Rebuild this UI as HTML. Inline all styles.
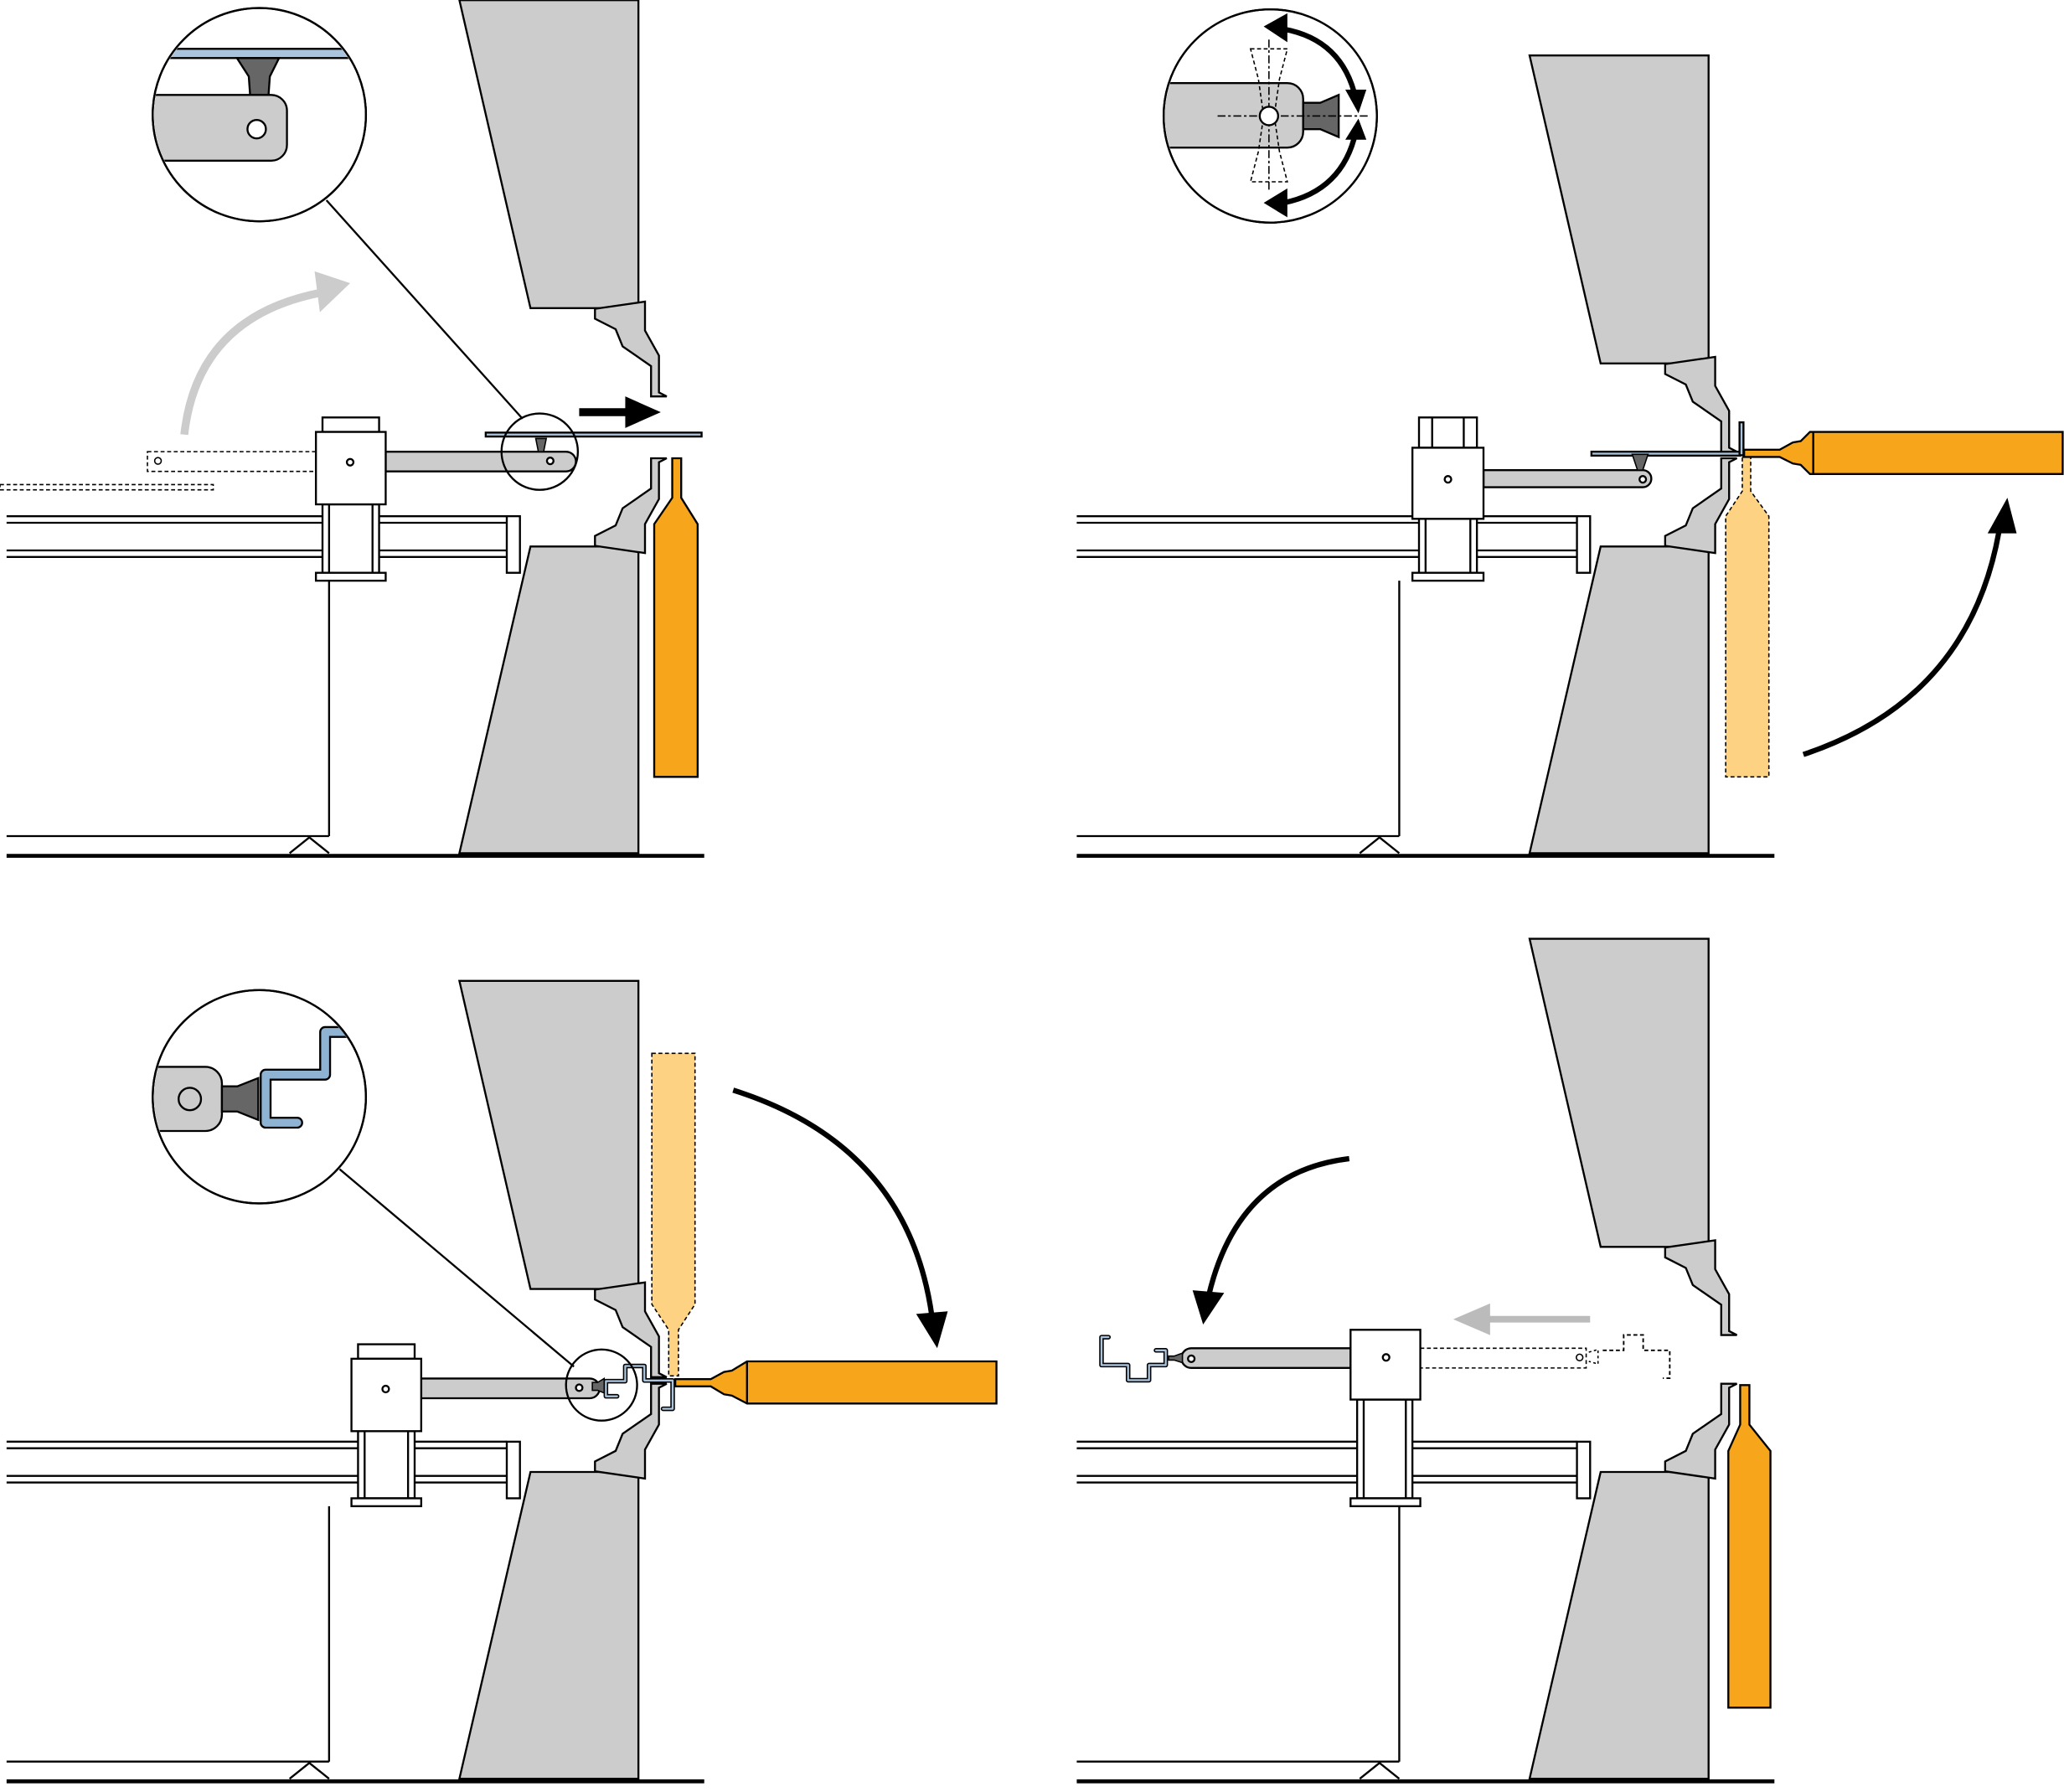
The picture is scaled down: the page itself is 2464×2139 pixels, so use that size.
<!DOCTYPE html>
<html><head><meta charset="utf-8"><style>html,body{margin:0;padding:0;background:#fff}svg{display:block}</style></head>
<body>
<svg width="2464" height="2139" viewBox="0 0 1568 1361" xmlns="http://www.w3.org/2000/svg">
<defs>
<clipPath id="c1"><circle cx="197" cy="87" r="80"/></clipPath>
<clipPath id="c2"><circle cx="965" cy="88" r="80"/></clipPath>
<clipPath id="c3"><circle cx="197" cy="833" r="80"/></clipPath>
<g id="upper" stroke="#000" stroke-width="1.5" fill="#ccc" stroke-linejoin="miter">
  <polygon points="452,234.5 490,229 490,251 500.6,270 500.6,298 506.5,301 494.6,301 494.6,278 473,263 467.7,250 452,242"/>
</g>
<g id="frame" stroke="#000" stroke-width="1.5" fill="none">
  <polygon points="403,415 485,415 485,648 349,648" fill="#ccc"/>
  <g transform="translate(0,649) scale(1,-1)"><use href="#upper"/></g>
  <line x1="5" y1="392" x2="385" y2="392"/><line x1="5" y1="397" x2="385" y2="397"/>
  <line x1="5" y1="418" x2="385" y2="418"/><line x1="5" y1="423" x2="385" y2="423"/>
  <rect x="385" y="392" width="10" height="43" fill="#fff"/>
  <line x1="250" y1="441" x2="250" y2="635"/>
  <line x1="5" y1="635" x2="250" y2="635"/>
  <polyline points="220,648 235,636 250,648"/>
  <line x1="5" y1="650" x2="535" y2="650" stroke-width="3"/>
</g>
<g id="uppbeam" stroke="#000" stroke-width="1.5">
  <polygon points="349,0 485,0 485,234 403,234" fill="#ccc"/>
  <use href="#upper"/>
</g>
</defs>

<!-- Panel 1 -->
<use href="#uppbeam"/>
<use href="#frame"/>
<g stroke="#000" stroke-width="1.5">
  <polygon points="510.7,348 517.5,348 517.5,378 530,398 530,590 497,590 497,398 510.7,378" fill="#f7a51b"/>
  <rect x="369" y="328.5" width="164" height="3" fill="#a9c4dc"/>
  <line x1="440" y1="313" x2="478" y2="313" stroke-width="6"/>
  <polygon points="475,301 502,313 475,325" fill="#000" stroke="none"/>
  <rect x="112" y="343" width="128" height="15" fill="none" stroke-dasharray="3,2" stroke-width="1"/>
  <circle cx="120" cy="350" r="2.5" fill="none" stroke-width="1"/>
  <rect x="0" y="368" width="162" height="4" fill="none" stroke-dasharray="3,2" stroke-width="1"/>
  <rect x="245" y="383" width="43" height="52" fill="#fff"/>
  <line x1="250" y1="383" x2="250" y2="435"/><line x1="283" y1="383" x2="283" y2="435"/>
  <rect x="240" y="435" width="53" height="6" fill="#fff"/>
  <path d="M293,343 H430 A7.5,7.5 0 0 1 430,358 H293 Z" fill="#ccc"/>
  <polygon points="407,333 415,333 413,343 409,343" fill="#666" stroke-width="1"/>
  <circle cx="418" cy="350" r="2.5" fill="#fff"/>
  <rect x="245" y="317" width="43" height="11" fill="#fff"/>
  <rect x="240" y="328" width="53" height="55" fill="#fff"/>
  <circle cx="266" cy="351" r="2.5" fill="#fff"/>
  <circle cx="410" cy="343" r="29" fill="none"/>
  <line x1="248" y1="152" x2="397" y2="318"/>
  <circle cx="197" cy="87" r="81" fill="#fff"/>
  <g clip-path="url(#c1)">
    <rect x="100" y="37" width="200" height="7" fill="#a9c4dc"/>
    <polygon points="180,44 212,44 205,58 204,72 190,72 189,58" fill="#666"/>
    <path d="M100,72 H206 A12,12 0 0 1 218,84 V110 A12,12 0 0 1 206,122 H100 Z" fill="#ccc"/>
    <circle cx="195" cy="98" r="7" fill="#fff"/>
  </g>
  <circle cx="197" cy="87" r="81" fill="none"/>
</g>
<path d="M140,330 Q150,240 245,222" stroke="#ccc" stroke-width="6" fill="none"/>
<polygon points="239,206 266,215 243,237" fill="#ccc"/>

<!-- Panel 2 -->
<g transform="translate(813,42)"><use href="#uppbeam"/></g>
<g transform="translate(813,0)"><use href="#frame"/></g>
<g stroke="#000" stroke-width="1.5">
  <polygon points="1323.6,347 1330,347 1330,373 1343.8,392 1343.8,590 1311,590 1311,392 1323.6,373" fill="#fdd283" stroke-dasharray="3,2" stroke-width="1"/>
  <polygon points="1325,341.5 1352,341.5 1362,336 1368,335 1375,328 1567,328 1567,360 1375,360 1368,353 1362,352 1352,347 1325,347" fill="#f7a51b"/>
  <line x1="1377.5" y1="328" x2="1377.5" y2="360"/>
  <rect x="1209" y="343" width="113" height="3" fill="#a9c4dc"/>
  <rect x="1321.5" y="320.7" width="3" height="25" fill="#a9c4dc"/>
  <rect x="1078" y="394" width="44" height="41" fill="#fff"/>
  <line x1="1083" y1="394" x2="1083" y2="435"/><line x1="1117" y1="394" x2="1117" y2="435"/>
  <rect x="1073" y="435" width="54" height="6" fill="#fff"/>
  <path d="M1127,357 H1248 A6.5,6.5 0 0 1 1248,370 H1127 Z" fill="#ccc"/>
  <polygon points="1240,345 1252,345 1248,357 1244,357" fill="#666" stroke-width="1"/>
  <circle cx="1248" cy="364" r="2.5" fill="#fff"/>
  <rect x="1078" y="317" width="44" height="23" fill="#fff"/>
  <line x1="1088" y1="317" x2="1088" y2="340"/><line x1="1112" y1="317" x2="1112" y2="340"/>
  <rect x="1073" y="340" width="54" height="54" fill="#fff"/>
  <circle cx="1100" cy="364" r="2.5" fill="#fff"/>
  <circle cx="965" cy="88" r="81" fill="#fff"/>
  <g clip-path="url(#c2)">
    <path d="M870,63 H978 A12,12 0 0 1 990,75 V100 A12,12 0 0 1 978,112 H870 Z" fill="#ccc"/>
    <polygon points="990,78 1003,78 1017,72 1017,104 1003,98 990,98" fill="#666"/>
    <path d="M950,37 H978 L972,60 L968,88 L972,115 L978,138 H950 L956,115 L960,88 L956,60 Z" fill="none" stroke-dasharray="3,2" stroke-width="1"/>
    <line x1="964" y1="30" x2="964" y2="146" stroke-dasharray="6,2,2,2" stroke-width="1"/>
    <line x1="925" y1="88" x2="1040" y2="88" stroke-dasharray="6,2,2,2" stroke-width="1"/>
    <circle cx="964" cy="88" r="7" fill="#fff"/>
  </g>
  <circle cx="965" cy="88" r="81" fill="none"/>
</g>
<g fill="none" stroke="#000" stroke-width="4">
  <path d="M975,22 Q1020,30 1030,75"/>
  <path d="M1030,100 Q1020,145 975,154"/>
  <path d="M1370,573 Q1500,530 1520,395" />
</g>
<g fill="#000">
  <polygon points="960,20 978,10 978,32"/>
  <polygon points="1022,68 1038,68 1032,86"/>
  <polygon points="1022,106 1038,106 1032,90"/>
  <polygon points="960,154 978,143 978,165"/>
  <polygon points="1510,405 1532,405 1525,378"/>
</g>

<!-- Panel 3 -->
<g transform="translate(0,745)"><use href="#uppbeam"/></g>
<g transform="translate(0,703)"><use href="#frame"/></g>
<g stroke="#000" stroke-width="1.5">
  <polygon points="495.2,800 528,800 528,990.6 515.4,1010 515.4,1045 508,1045 508,1010 495.2,990.6" fill="#fdd283" stroke-dasharray="3,2" stroke-width="1"/>
  <polygon points="513,1047.5 540,1047.5 550,1042 556,1041 567.5,1034 757,1034 757,1066 567.5,1066 556,1060 550,1059 540,1053 513,1053" fill="#f7a51b"/>
  <line x1="567.5" y1="1034" x2="567.5" y2="1066"/>
  <path d="M468.8,1060.5 H460.3 V1049 H475 V1037.5 H489.5 V1048.5 H511 V1070 H503.7" fill="none" stroke-width="3.5" stroke-linejoin="round" stroke-linecap="round"/>
  <path d="M468.8,1060.5 H460.3 V1049 H475 V1037.5 H489.5 V1048.5 H511 V1070 H503.7" fill="none" stroke="#a9c4dc" stroke-width="1.5" stroke-linejoin="round" stroke-linecap="round"/>
  <rect x="272" y="1087" width="43" height="51" fill="#fff"/>
  <line x1="277" y1="1087" x2="277" y2="1138"/><line x1="310" y1="1087" x2="310" y2="1138"/>
  <rect x="267" y="1138" width="53" height="6" fill="#fff"/>
  <path d="M320,1047 H448 A7.5,7.5 0 0 1 448,1062 H320 Z" fill="#ccc"/>
  <polygon points="450,1050 454,1050 459,1047 459,1058 454,1056 450,1056" fill="#666" stroke-width="1"/>
  <circle cx="440" cy="1054" r="2.5" fill="#fff"/>
  <rect x="272" y="1021" width="43" height="11" fill="#fff"/>
  <rect x="267" y="1032" width="53" height="55" fill="#fff"/>
  <circle cx="293" cy="1055" r="2.5" fill="#fff"/>
  <circle cx="457" cy="1052" r="27" fill="none"/>
  <line x1="258" y1="888" x2="436" y2="1038"/>
  <circle cx="197" cy="833" r="81" fill="#fff"/>
  <g clip-path="url(#c3)">
    <path d="M100,810.3 H156 A12.6,12.6 0 0 1 168.6,822.9 V846.4 A12.6,12.6 0 0 1 156,859 H100 Z" fill="#ccc"/>
    <circle cx="144.2" cy="834.7" r="8.5" fill="#ccc"/>
    <polygon points="168.6,825.1 180.3,825.1 196.2,818.8 196.2,850.6 180.3,844.2 168.6,844.2" fill="#666"/>
    <path d="M225.8,852.7 H201.8 V816.2 H247 V783.8 H290" fill="none" stroke="#000" stroke-width="9" stroke-linejoin="round" stroke-linecap="round"/>
    <path d="M225.8,852.7 H201.8 V816.2 H247 V783.8 H290" fill="none" stroke="#8fb3d3" stroke-width="6" stroke-linejoin="round" stroke-linecap="round"/>
  </g>
  <circle cx="197" cy="833" r="81" fill="none"/>
</g>
<path d="M557,828 Q690,870 708,1000" fill="none" stroke="#000" stroke-width="4"/>
<polygon points="696,998 720,996 712,1024"/>

<!-- Panel 4 -->
<g transform="translate(813,713)"><use href="#uppbeam"/></g>
<g transform="translate(813,703)"><use href="#frame"/></g>
<g stroke="#000" stroke-width="1.5">
  <polygon points="1322,1052 1329,1052 1329,1082 1345,1102 1345,1297 1313,1297 1313,1102 1322,1082" fill="#f7a51b"/>
  <rect x="1031" y="1063" width="42" height="75" fill="#fff"/>
  <line x1="1036" y1="1063" x2="1036" y2="1138"/><line x1="1068" y1="1063" x2="1068" y2="1138"/>
  <rect x="1026" y="1138" width="53" height="6" fill="#fff"/>
  <path d="M1026,1024 H905 A7.5,7.5 0 0 0 905,1039 H1026 Z" fill="#ccc"/>
  <polygon points="887.8,1030 892,1030 898.3,1027.7 898.3,1035 892,1033 887.8,1033" fill="#666" stroke-width="1"/>
  <circle cx="905" cy="1032" r="2.5" fill="#fff"/>
  <path d="M842.1,1015.6 H836.8 V1036.8 H857 V1048.3 H872.9 V1036.8 H885.6 V1025.6 H878.2" fill="none" stroke="#000" stroke-width="3.5" stroke-linejoin="round" stroke-linecap="round"/>
  <path d="M842.1,1015.6 H836.8 V1036.8 H857 V1048.3 H872.9 V1036.8 H885.6 V1025.6 H878.2" fill="none" stroke="#a9c4dc" stroke-width="1.5" stroke-linejoin="round" stroke-linecap="round"/>
  <rect x="1079" y="1024" width="126" height="15" fill="none" stroke-dasharray="3,2" stroke-width="1"/>
  <path d="M1217.6,1025.6 H1233.5 V1013.9 H1248.3 V1025.6 H1268.5 V1046.8 H1263.2" fill="none" stroke-dasharray="3,2" stroke-width="1.2"/>
  <path d="M1207,1027 L1214,1025 V1036 L1207,1034" fill="none" stroke-dasharray="2,2" stroke-width="1"/>
  <circle cx="1200" cy="1031" r="2.5" fill="none" stroke-width="1"/>
  <rect x="1026" y="1010" width="53" height="53" fill="#fff"/>
  <circle cx="1053" cy="1031" r="2.5" fill="#fff"/>
</g>
<line x1="1130" y1="1002" x2="1208" y2="1002" stroke="#bbb" stroke-width="5"/>
<polygon points="1104,1002 1132,990 1132,1014" fill="#bbb"/>
<path d="M1025,880 Q940,890 918,985" fill="none" stroke="#000" stroke-width="4"/>
<polygon points="906,980 930,982 914,1006"/>
</svg>
</body></html>
